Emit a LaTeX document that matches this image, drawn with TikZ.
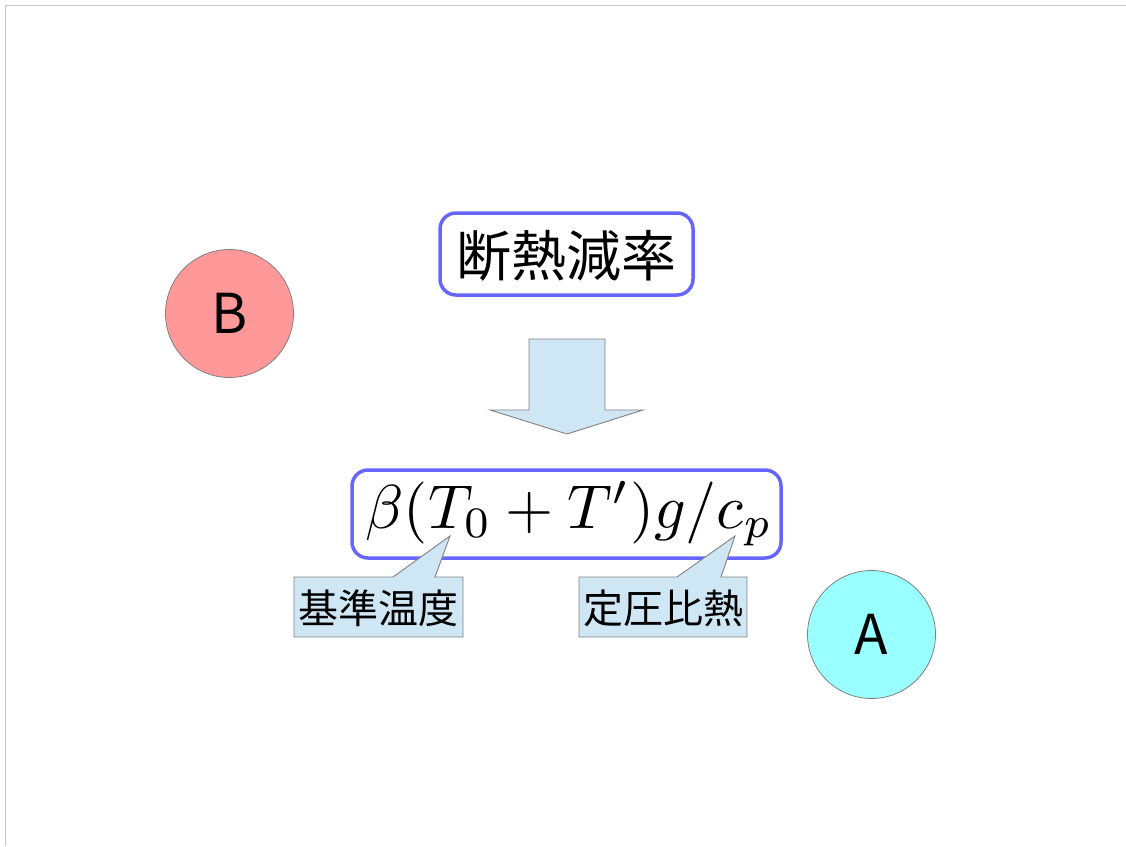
\documentclass[tikz,border=0pt]{standalone}
\usepackage{fontspec}
\newfontfamily\cjk{Noto Sans CJK JP}
\definecolor{boxblue}{RGB}{102,102,255}
\definecolor{lightblue}{RGB}{207,231,245}
\definecolor{pinkB}{RGB}{255,153,153}
\definecolor{cyanA}{RGB}{153,255,255}
\definecolor{framegray}{RGB}{200,200,200}
\definecolor{edgegray}{RGB}{128,128,128}
\tikzset{
  roundbox/.style={draw=boxblue, line width=3.5pt, rounded corners=16pt, fill=white},
  ball/.style={circle, draw=edgegray, line width=0.8pt, minimum size=128pt, inner sep=0pt, font=\cjk\fontsize{55}{60}\selectfont},
  shapefill/.style={fill=lightblue, draw=edgegray, line width=0.9pt},
  bigtext/.style={font=\cjk\fontsize{55}{60}\selectfont, inner sep=0pt},
  smalltext/.style={font=\cjk\fontsize{40}{44}\selectfont, inner sep=0pt},
}
\begin{document}
\begin{tikzpicture}[x=1pt,y=-1pt]
\useasboundingbox (0,0) rectangle (1126,846);
% page frame
\draw[framegray, line width=1.5pt] (5.5,846) -- (5.5,5.5) -- (1126,5.5);
% top box
\draw[roundbox] (440,213) rectangle (693,295);
\node[bigtext] (title) at (566.5,256) {断熱減率};
% arrow
\draw[shapefill] (529,339) -- (605,339) -- (605,410) -- (643,410) -- (567,434) -- (490,410) -- (529,410) -- cycle;
% formula box
\draw[roundbox] (352,470) rectangle (781,558);
\node[anchor=base, inner sep=0pt, scale=6.2] (formula) at (569,528) {$\beta(T_0+T')g/c_p$};
% callouts
\draw[shapefill] (294,577) -- (393,577) -- (450,536) -- (435,577) -- (463,577) -- (463,637) -- (294,637) -- cycle;
\node[smalltext] (c1) at (378.5,608) {基準温度};
\draw[shapefill] (579,577) -- (677,577) -- (735,536) -- (721,577) -- (747,577) -- (747,637) -- (579,637) -- cycle;
\node[smalltext] (c2) at (663,608) {定圧比熱};
% circles
\node[ball, fill=pinkB] (B) at (229.5,313.5) {B};
\node[ball, fill=cyanA] (A) at (871.5,634.5) {A};
\end{tikzpicture}
\end{document}
